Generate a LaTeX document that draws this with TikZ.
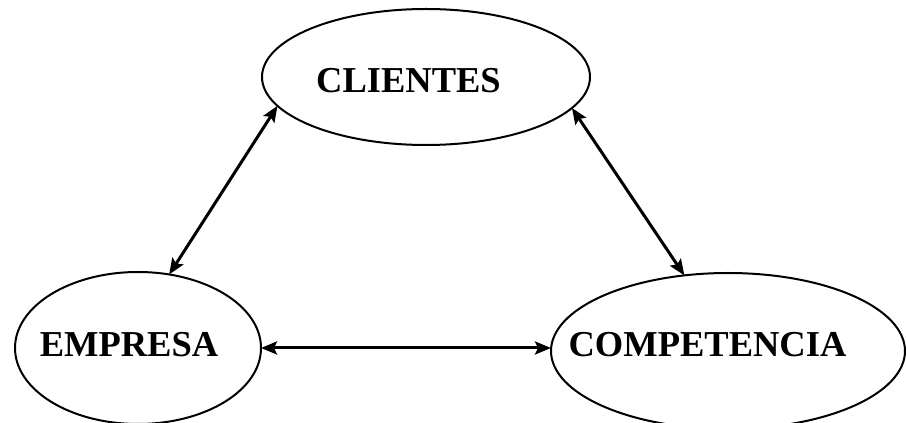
\documentclass[tikz,border=0pt]{standalone}
\usepackage{fontspec}
\setmainfont{Liberation Serif}
\usetikzlibrary{shapes.geometric,arrows.meta}

\begin{document}
\begin{tikzpicture}[x=1pt,y=1pt,
  oval/.style={draw,ellipse,line width=2pt,inner sep=0pt,outer sep=0pt},
  lbl/.style={anchor=base,inner sep=0pt,font=\fontsize{36.5}{40}\selectfont\bfseries},
  link/.style={line width=3pt,{Stealth[length=16pt,width=13pt,inset=3pt]}-{Stealth[length=16pt,width=13pt,inset=3pt]}}]
  \useasboundingbox (0,0) rectangle (906,423);

  % the three ovals
  \node[oval,minimum width=328,minimum height=136] (cli) at (426,346) {};
  \node[oval,minimum width=246,minimum height=152] (emp) at (138,75) {};
  \node[oval,minimum width=354,minimum height=156] (cmp) at (728,72) {};

  % labels
  \node[lbl] (tcli) at (408.5,330) {CLIENTES};
  \node[lbl] (temp) at (129,66) {EMPRESA};
  \node[lbl] (tcmp) at (707.5,66) {COMPETENCIA};

  % two-way links
  \draw[link] (emp.67.9) -- (cli.191.5);
  \draw[link] (cli.348.5) -- (cmp.120.3);
  \draw[link] (emp.east) -- (emp.east -| cmp.west);
\end{tikzpicture}
\end{document}
